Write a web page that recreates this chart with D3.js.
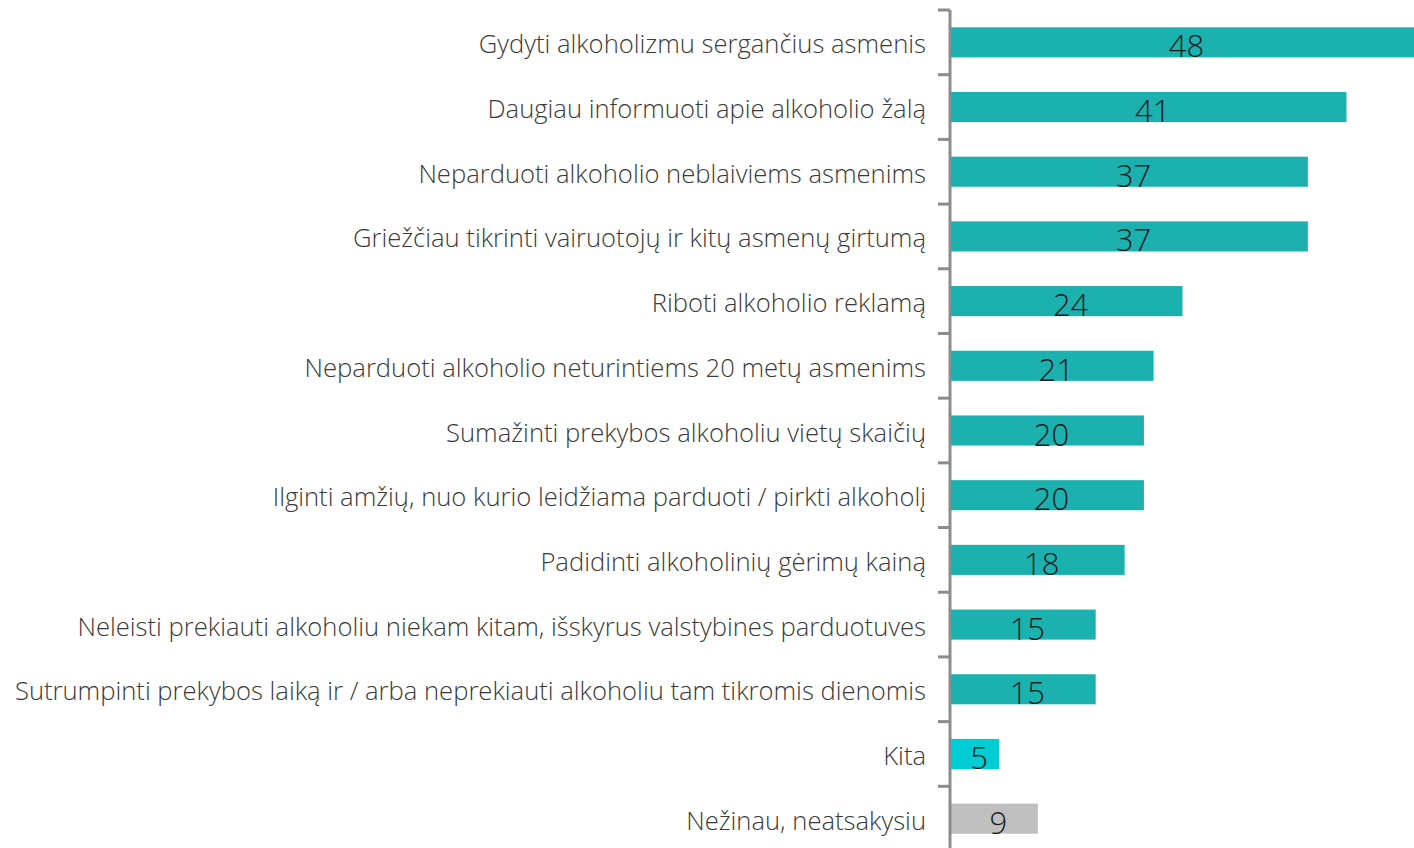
<!DOCTYPE html>
<html>
<head>
<meta charset="utf-8">
<script src="https://cdn.jsdelivr.net/npm/d3@7"></script>
<style>
  html, body { margin: 0; padding: 0; background: #fff; }
  svg { display: block; }
  text { font-family: "Open Sans", "Noto Sans", sans-serif; font-weight: 300; }
</style>
</head>
<body>
<svg id="chart" width="1414" height="848"></svg>
<script>
// Measures to reduce alcohol harm, share of respondents (%)
const categories = [
  "Gydyti alkoholizmu sergančius asmenis",
  "Daugiau informuoti apie alkoholio žalą",
  "Neparduoti alkoholio neblaiviems asmenims",
  "Griežčiau tikrinti vairuotojų ir kitų asmenų girtumą",
  "Riboti alkoholio reklamą",
  "Neparduoti alkoholio neturintiems 20 metų asmenims",
  "Sumažinti prekybos alkoholiu vietų skaičių",
  "Ilginti amžių, nuo kurio leidžiama parduoti / pirkti alkoholį",
  "Padidinti alkoholinių gėrimų kainą",
  "Neleisti prekiauti alkoholiu niekam kitam, išskyrus valstybines parduotuves",
  "Sutrumpinti prekybos laiką ir / arba neprekiauti alkoholiu tam tikromis dienomis",
  "Kita",
  "Nežinau, neatsakysiu"
];
const values = [48, 41, 37, 37, 24, 21, 20, 20, 18, 15, 15, 5, 9];
const barColors = {
  "Kita": "#00CCD3",
  "Nežinau, neatsakysiu": "#BFBFBF"
};
const defaultColor = "#1BB1AE";

const svg = d3.select("#chart");
const axisX = 950;

const x = d3.scaleLinear().domain([0, 48]).range([951, 1414]);
const pad = 0.535;
const y = d3.scaleBand()
  .domain(categories)
  .range([10, 851])
  .paddingInner(pad)
  .paddingOuter(pad / 2);

const data = categories.map((c, i) => ({ cat: c, val: values[i] }));

// bars
svg.append("g").selectAll("rect")
  .data(data)
  .join("rect")
  .attr("x", x(0))
  .attr("y", d => y(d.cat))
  .attr("width", d => x(d.val) - x(0))
  .attr("height", y.bandwidth())
  .attr("fill", d => barColors[d.cat] || defaultColor);

// category axis: vertical line with ticks on band boundaries
const gap = (y.step() - y.bandwidth()) / 2;
const tickYs = categories.map(c => y(c) - gap);
const ax = svg.append("g").attr("stroke", "#8C8C8C").attr("stroke-width", 3);
ax.append("line")
  .attr("x1", axisX).attr("x2", axisX)
  .attr("y1", y.range()[0]).attr("y2", y.range()[1]);
ax.selectAll("line.tick")
  .data(tickYs)
  .join("line")
  .attr("class", "tick")
  .attr("x1", axisX - 12).attr("x2", axisX)
  .attr("y1", d => d).attr("y2", d => d);

// category labels
svg.append("g").selectAll("text")
  .data(data)
  .join("text")
  .attr("x", 926)
  .attr("y", d => y(d.cat) + y.bandwidth() / 2 + 11)
  .attr("text-anchor", "end")
  .attr("font-size", 25.6)
  .attr("fill", "#3A3A3A")
  .text(d => d.cat);

// value labels centred on each bar
svg.append("g").selectAll("text")
  .data(data)
  .join("text")
  .attr("x", d => (x(0) + x(d.val)) / 2 + 4)
  .attr("y", d => y(d.cat) + y.bandwidth() / 2 + 15)
  .attr("text-anchor", "middle")
  .attr("font-size", 31)
  .attr("fill", "#1A1A1A")
  .text(d => d.val);
</script>
</body>
</html>
